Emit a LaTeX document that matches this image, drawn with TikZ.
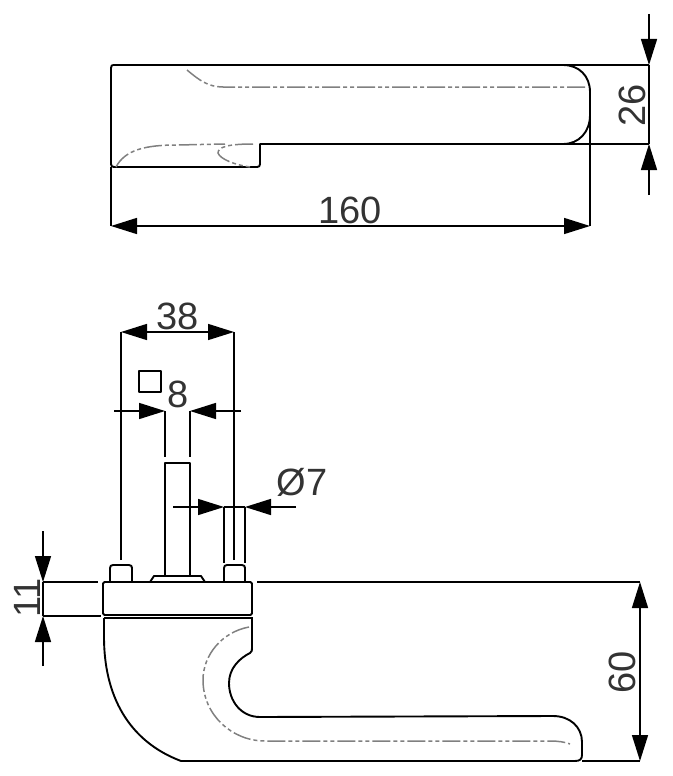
\documentclass[tikz,border=0pt]{standalone}
\usepackage{fontspec}
\setmainfont{Liberation Sans}
\usetikzlibrary{arrows.meta}
\begin{document}
\begin{tikzpicture}[x=1pt,y=-1pt]
\tikzstyle{outline} = [
  draw = black,
  line width = 1.9pt,
  line join = round
]
\tikzstyle{dimline} = [
  draw = black,
  line width = 1.5pt
]
\tikzstyle{dimtip} = [
  dimline,
  -{Triangle[length=26pt,width=16pt]}
]
\tikzstyle{dimboth} = [
  dimline,
  {Triangle[length=26pt,width=16pt]}-{Triangle[length=26pt,width=16pt]}
]
\tikzstyle{hidden} = [
  draw = black!50,
  line width = 1.5pt,
  dash pattern = on 18pt off 3pt on 4pt off 3pt on 4pt off 3pt
]
\tikzstyle{dimtext} = [
  text = black!80,
  inner sep = 0pt,
  font = \fontsize{38}{38}\selectfont
]
\useasboundingbox (0,0) rectangle (672,776);

% top view
\draw[outline] (113,65) -- (563,65) .. controls (579,65) and (590,76) .. (590,92)
  -- (590,115) .. controls (590,132) and (579,144) .. (563,144) -- (260,144)
  -- (260,164) .. controls (260,166) and (259,167) .. (257,167) -- (114,167)
  .. controls (112,167) and (111,166) .. (111,164) -- (111,68)
  .. controls (111,66) and (112,65) .. (113,65);
\draw[hidden] (187,70) .. controls (199,80) and (208,87) .. (223,87) -- (588,87);
\draw[hidden] (116,167) .. controls (125,150) and (145,145) .. (177,145) -- (225,144);
\draw[hidden] (253,144) .. controls (228,144) and (218,147) .. (218,153)
  .. controls (220,159) and (235,165) .. (250,167);

\coordinate (wtl) at (111,226);
\coordinate (wtr) at (590,226);
\draw[dimline] (111,167) -- (wtl);
\draw[dimline] (590,115) -- (wtr);
\draw[dimboth] (wtl) -- (wtr);
\node[dimtext] (w160) at (350,210) {160};

\coordinate (htt) at (649,65);
\coordinate (htb) at (649,144);
\draw[dimline] (563,65) -- (htt);
\draw[dimline] (563,144) -- (htb);
\draw[dimline] (htt) -- (htb);
\draw[dimtip] (649,14) -- (htt);
\draw[dimtip] (649,195) -- (htb);
\node[dimtext, rotate=90] (h26) at (632,105) {26};

% side view
\draw[outline, rounded corners=1.5pt] (103,582) rectangle (252,615);
\draw[outline] (104,618) -- (253,618);
\draw[outline] (104,618) -- (104,637) .. controls (104,695) and (128,741) .. (181,761)
  -- (575,761) .. controls (580,761) and (582,759) .. (582,755)
  -- (582,742) .. controls (582,727) and (570,716) .. (553,716)
  -- (260,717) .. controls (241,717) and (229,701) .. (229,683)
  .. controls (229,668) and (240,658) .. (250,653) .. controls (252,652) and (252,650) .. (252,648)
  -- (252,618);
\draw[hidden] (249,627) .. controls (222,632) and (203,655) .. (203,680)
  .. controls (203,715) and (232,741) .. (265,741) -- (550,741)
  .. controls (558,741) and (565,742) .. (570,744);

\draw[outline] (110,582) -- (110,568) .. controls (110,566) and (111,565) .. (113,565)
  -- (129,565) .. controls (131,565) and (132,566) .. (132,568) -- (132,582);
\draw[outline] (224,582) -- (224,568) .. controls (224,566) and (225,565) .. (227,565)
  -- (242,565) .. controls (244,565) and (245,566) .. (245,568) -- (245,582);
\draw[outline] (150,582) -- (154,576) -- (201,576) -- (205,582);
\draw[outline] (165,576) -- (165,463) -- (190,463) -- (190,576);
\draw[outline] (139,371) rectangle (161,392);

\coordinate (st) at (121,332);
\coordinate (sr) at (234,332);
\draw[dimline] (121,560) -- (st);
\draw[dimline] (234,560) -- (sr);
\draw[dimboth] (st) -- (sr);
\node[dimtext] (w38) at (178,316) {38};

\coordinate (ql) at (165,411);
\coordinate (qr) at (190,411);
\draw[dimline] (ql) -- (165,457);
\draw[dimline] (qr) -- (190,457);
\draw[dimtip] (114,411) -- (ql);
\draw[dimtip] (241,411) -- (qr);
\node[dimtext] (w8) at (178,394) {8};

\coordinate (dl) at (224,507);
\coordinate (dr) at (245,507);
\draw[dimline] (dl) -- (224,563);
\draw[dimline] (dr) -- (245,563);
\draw[dimline] (dl) -- (dr);
\draw[dimtip] (173,507) -- (dl);
\draw[dimtip] (296,507) -- (dr);
\node[dimtext] (d7) at (302,482) {Ø7};

\coordinate (pt) at (43,582);
\coordinate (pb) at (43,616);
\draw[outline] (pt) -- (98,582);
\draw[dimline] (pb) -- (101,616);
\draw[dimline] (pt) -- (pb);
\draw[dimtip] (43,531) -- (pt);
\draw[dimtip] (43,666) -- (pb);
\node[dimtext, rotate=90] (h11) at (27,598) {11};

\coordinate (ht) at (640,582);
\coordinate (hb) at (640,761);
\draw[outline] (257,582) -- (ht);
\draw[outline] (582,761) -- (hb);
\draw[dimboth] (ht) -- (hb);
\node[dimtext, rotate=90] (h60) at (622,672) {60};

\end{tikzpicture}
\end{document}
